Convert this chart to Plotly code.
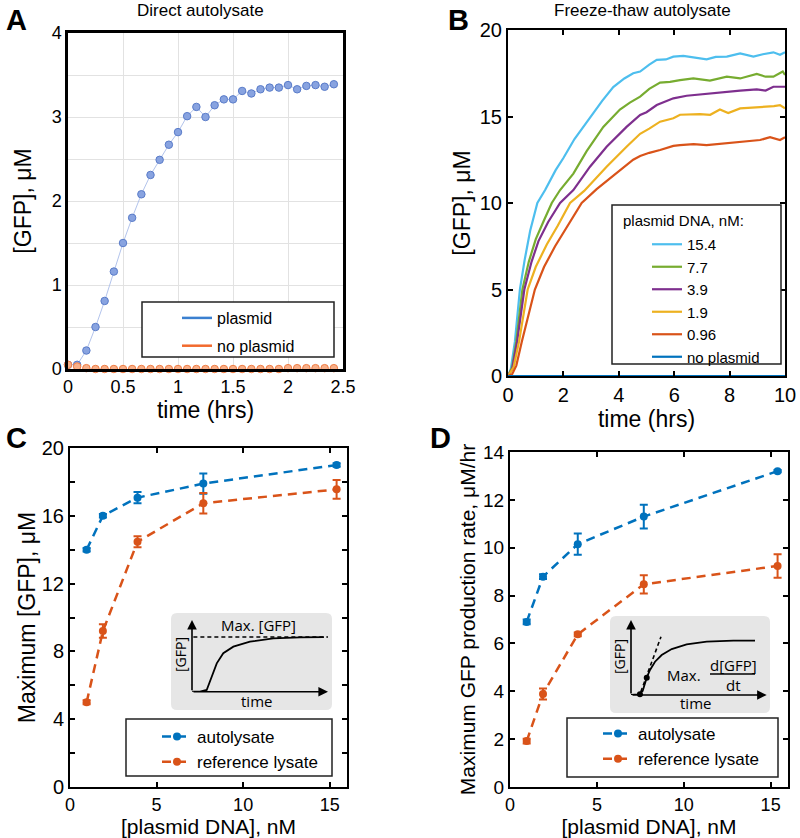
import plotly.graph_objects as go

# ---------------- data ----------------
# Panel A: direct autolysate (time in hours, GFP in uM)
a_time = [0, 0.083, 0.167, 0.25, 0.333, 0.417, 0.5, 0.583, 0.667, 0.75, 0.833, 0.917, 1.0, 1.083, 1.167,
          1.25, 1.333, 1.417, 1.5, 1.583, 1.667, 1.75, 1.833, 1.917, 2.0, 2.083, 2.167, 2.25, 2.333, 2.417]
a_plasmid = [0.05, 0.05, 0.22, 0.50, 0.81, 1.16, 1.50, 1.80, 2.08, 2.31, 2.49, 2.67, 2.82, 3.01, 3.12,
             3.00, 3.14, 3.21, 3.21, 3.31, 3.28, 3.33, 3.35, 3.35, 3.38, 3.33, 3.37, 3.38, 3.36, 3.39]
a_noplasmid = [0.05, 0.03, 0.01, 0.0, 0.0, 0.0, 0.0, 0.0, 0.0, 0.0, 0.0, 0.0, 0.0, 0.0, 0.0,
               0.0, 0.0, 0.0, 0.0, 0.0, 0.0, 0.0, 0.0, 0.0, 0.01, 0.01, 0.01, 0.01, 0.01, 0.01]

# Panel B: freeze-thaw autolysate, one curve per plasmid concentration
b_t_154 = [0, 0.1, 0.25, 0.43, 0.6, 0.8, 1.06, 1.34, 1.72, 2.0, 2.4, 2.98, 3.4, 3.8, 4.2, 4.52, 4.77, 5.1,
           5.37, 5.7, 5.97, 6.33, 6.7, 7.17, 7.5, 7.9, 8.38, 8.86, 9.2, 9.58, 9.82, 10.0]
b_v_154 = [0, 0.4, 2.0, 5.0, 6.7, 8.4, 10.0, 10.75, 11.9, 12.6, 13.7, 15.0, 15.9, 16.7, 17.2, 17.5, 17.6, 18.0,
           18.27, 18.3, 18.46, 18.5, 18.4, 18.3, 18.45, 18.46, 18.65, 18.46, 18.6, 18.71, 18.57, 18.71]
b_t_77 = [0, 0.15, 0.3, 0.52, 0.75, 1.0, 1.3, 1.58, 1.88, 2.36, 2.84, 3.44, 4.04, 4.4, 4.77, 5.1, 5.49, 5.85,
          6.21, 6.69, 7.29, 7.9, 8.38, 8.98, 9.3, 9.58, 9.92, 10.0]
b_v_77 = [0, 0.5, 2.0, 5.0, 6.6, 7.9, 9.0, 10.0, 10.75, 11.7, 13.0, 14.4, 15.4, 15.8, 16.15, 16.6, 16.96, 17.0,
          17.1, 17.2, 17.07, 17.3, 17.2, 17.46, 17.3, 17.3, 17.6, 17.4]
b_t_39 = [0, 0.15, 0.33, 0.59, 0.85, 1.1, 1.45, 1.88, 2.36, 2.96, 3.56, 4.28, 4.77, 5.0, 5.37, 5.97, 6.45,
          6.69, 7.17, 7.65, 8.38, 8.98, 9.3, 9.58, 10.0]
b_v_39 = [0, 0.4, 2.0, 5.0, 6.6, 7.8, 8.9, 10.0, 10.75, 12.1, 13.25, 14.4, 15.09, 15.25, 15.66, 16.05, 16.2,
          16.24, 16.3, 16.42, 16.5, 16.57, 16.5, 16.72, 16.72]
b_t_19 = [0, 0.2, 0.4, 0.71, 1.0, 1.4, 1.8, 2.24, 2.75, 3.56, 4.28, 4.77, 5.1, 5.49, 5.97, 6.21, 6.93, 7.3,
          7.65, 7.95, 8.38, 8.74, 9.1, 9.6, 9.82, 10.0]
b_v_19 = [0, 0.5, 2.0, 5.0, 6.3, 7.6, 8.7, 10.0, 10.7, 12.1, 13.25, 14.0, 14.3, 14.7, 14.9, 15.1, 15.14, 15.1,
          15.4, 15.2, 15.47, 15.5, 15.53, 15.6, 15.66, 15.47]
b_t_096 = [0, 0.15, 0.3, 0.5, 0.97, 1.3, 1.7, 2.2, 2.66, 3.2, 3.92, 4.52, 4.77, 5.1, 5.49, 5.97, 6.21, 6.7,
           7.17, 7.9, 8.62, 9.1, 9.46, 9.82, 10.0]
b_v_096 = [0, 0.1, 0.6, 2.0, 5.0, 6.3, 7.5, 8.8, 10.0, 10.8, 11.7, 12.5, 12.72, 12.9, 13.06, 13.3, 13.35, 13.4,
           13.35, 13.45, 13.55, 13.64, 13.8, 13.64, 13.8]
b_t_none = [0, 10]
b_v_none = [0, 0]
b_labels = ["15.4", "7.7", "3.9", "1.9", "0.96", "no plasmid"]

# Panels C and D: summary vs plasmid DNA (nM)
dna = [0.96, 1.9, 3.9, 7.7, 15.4]
c_auto = [14.0, 16.0, 17.07, 17.9, 19.0]
c_auto_err = [0.1, 0.1, 0.33, 0.6, 0.1]
c_ref = [5.0, 9.2, 14.47, 16.74, 17.56]
c_ref_err = [0.12, 0.4, 0.33, 0.6, 0.55]
d_auto = [6.9, 8.79, 10.15, 11.3, 13.2]
d_auto_err = [0.1, 0.1, 0.44, 0.5, 0.05]
d_ref = [1.92, 3.89, 6.38, 8.47, 9.24]
d_ref_err = [0.1, 0.23, 0.08, 0.38, 0.49]

# Inset schematics (unitless)
inset_c_x = [0, 0.059, 0.108, 0.145, 0.182, 0.23, 0.304, 0.426, 0.598, 0.794, 0.97]
inset_c_y = [0, 0, 0.024, 0.209, 0.396, 0.536, 0.628, 0.697, 0.745, 0.759, 0.762]
inset_d_x = [0, 0.054, 0.086, 0.116, 0.14, 0.177, 0.226, 0.3, 0.41, 0.558, 0.754, 0.914]
inset_d_y = [0, 0.009, 0.053, 0.231, 0.333, 0.444, 0.533, 0.613, 0.676, 0.711, 0.724, 0.724]
inset_d_tan_x = [0.037, 0.221]
inset_d_tan_y = [-0.133, 0.777]
inset_d_dot_x = [0.066, 0.116]
inset_d_dot_y = [0.009, 0.231]

# ---------------- style ----------------
FONT = "Arial, Liberation Sans, sans-serif"
INSET_FONT = "Open Sans, Lato, sans-serif"
M_BLUE = "#0072BD"
M_RED = "#D95319"
b_colors = ["#4DBEEE", "#77AC30", "#7E2F8E", "#EDB120", "#D95319", "#0072BD"]
H = 838.0
W = 800.0

fig = go.Figure()

# Panel A
fig.add_trace(go.Scatter(x=a_time, y=a_plasmid, mode="lines+markers", xaxis="x", yaxis="y",
                         line=dict(color="#b3c4ec", width=1),
                         marker=dict(size=7.5, color="#88a3e0", line=dict(color="#5a7cc9", width=1)),
                         showlegend=False, cliponaxis=False))
fig.add_trace(go.Scatter(x=a_time, y=a_noplasmid, mode="markers", xaxis="x", yaxis="y",
                         marker=dict(size=7.5, color="#f8b08a", line=dict(color="#f07d45", width=1)),
                         showlegend=False, cliponaxis=False))
fig.add_trace(go.Scatter(x=[None], y=[None], mode="lines", name="plasmid", xaxis="x", yaxis="y",
                         line=dict(color="#3b80d0", width=2.5), legend="legend", legendgroup="a1"))
fig.add_trace(go.Scatter(x=[None], y=[None], mode="lines", name="no plasmid", xaxis="x", yaxis="y",
                         line=dict(color="#f26a2e", width=2.5), legend="legend", legendgroup="a2"))

# Panel B
b_series = [(b_t_154, b_v_154), (b_t_77, b_v_77), (b_t_39, b_v_39), (b_t_19, b_v_19),
            (b_t_096, b_v_096), (b_t_none, b_v_none)]
for (tt, vv), lab, col in zip(b_series, b_labels, b_colors):
    fig.add_trace(go.Scatter(x=tt, y=vv, mode="lines", name=lab, xaxis="x2", yaxis="y2",
                             line=dict(color=col, width=2.2), legend="legend2", cliponaxis=False))

# Panel C
for i, (vals, err, col, name) in enumerate([(c_auto, c_auto_err, M_BLUE, "autolysate"),
                                            (c_ref, c_ref_err, M_RED, "reference lysate")]):
    fig.add_trace(go.Scatter(x=dna, y=vals, mode="lines+markers", name=name, xaxis="x3", yaxis="y3",
                             line=dict(color=col, width=2.5, dash="9px,6px"),
                             marker=dict(size=8, color=col),
                             error_y=dict(type="data", array=err, color=col, thickness=2, width=4),
                             legend="legend3", legendgroup=f"c{i}"))
# Panel D
for i, (vals, err, col, name) in enumerate([(d_auto, d_auto_err, M_BLUE, "autolysate"),
                                            (d_ref, d_ref_err, M_RED, "reference lysate")]):
    fig.add_trace(go.Scatter(x=dna, y=vals, mode="lines+markers", name=name, xaxis="x4", yaxis="y4",
                             line=dict(color=col, width=2.5, dash="9px,6px"),
                             marker=dict(size=8, color=col),
                             error_y=dict(type="data", array=err, color=col, thickness=2, width=4),
                             legend="legend4", legendgroup=f"d{i}"))

# Inset C
fig.add_trace(go.Scatter(x=inset_c_x, y=inset_c_y, mode="lines", xaxis="x5", yaxis="y5",
                         line=dict(color="black", width=1.8), showlegend=False, cliponaxis=False))
fig.add_trace(go.Scatter(x=[0.01, 1.03], y=[0.763, 0.763], mode="lines", xaxis="x5", yaxis="y5",
                         line=dict(color="black", width=1.6, dash="4px,3px"), showlegend=False, cliponaxis=False))
# Inset D
fig.add_trace(go.Scatter(x=inset_d_x, y=inset_d_y, mode="lines", xaxis="x6", yaxis="y6",
                         line=dict(color="black", width=1.8), showlegend=False, cliponaxis=False))
fig.add_trace(go.Scatter(x=inset_d_tan_x, y=inset_d_tan_y, mode="lines", xaxis="x6", yaxis="y6",
                         line=dict(color="black", width=1.6, dash="4px,3px"), showlegend=False, cliponaxis=False))
fig.add_trace(go.Scatter(x=inset_d_dot_x, y=inset_d_dot_y, mode="markers", xaxis="x6", yaxis="y6",
                         marker=dict(size=6, color="black"), showlegend=False, cliponaxis=False))
fig.add_trace(go.Scatter(x=[0.582, 0.914], y=[0.28, 0.28], mode="lines", xaxis="x6", yaxis="y6",
                         line=dict(color="black", width=1.3), showlegend=False, cliponaxis=False))


def ax(domain, rng, dtick, anchor, title=None, standoff=None, tsize=23, fsize=18, **kw):
    d = dict(domain=domain, range=rng, dtick=dtick, anchor=anchor, automargin=False,
             showline=True, linecolor="black", linewidth=2, mirror="allticks",
             ticks="inside", ticklen=5, tickwidth=1.5, tickcolor="black",
             tickfont=dict(family=FONT, size=fsize, color="black"),
             zeroline=False, showgrid=False, fixedrange=True)
    if title:
        d["title"] = dict(text=title, font=dict(family=FONT, size=tsize, color="black"))
        if standoff is not None:
            d["title"]["standoff"] = standoff
    d.update(kw)
    return d


def hidden(domain, anchor):
    return dict(domain=domain, range=[0, 1], anchor=anchor, visible=False, fixedrange=True, automargin=False)


yd = lambda top, bot: [1 - bot / H, 1 - top / H]
xd = lambda l, r: [l / W, r / W]


def leg(x, y, size=16, gap=0):
    return dict(x=x / W, y=1 - y / H, xanchor="left", yanchor="top", bgcolor="rgba(0,0,0,0)",
                borderwidth=0, font=dict(family=FONT, size=size, color="black"),
                tracegroupgap=gap, itemclick=False, itemdoubleclick=False)


layout = dict(
    width=800, height=838, margin=dict(l=0, r=0, t=0, b=0, autoexpand=False),
    paper_bgcolor="white", plot_bgcolor="rgba(0,0,0,0)",
    font=dict(family=FONT, color="black"),
    xaxis=ax(xd(68, 343), [0, 2.5], 0.5, "y", "time (hrs)", 0, fsize=18, ticks="", showgrid=True,
             gridcolor="#e2e2e2", gridwidth=1, mirror=True, linewidth=2.5),
    yaxis=ax(yd(33, 369), [0, 4], 1, "x", "[GFP], μM", 14, fsize=18, ticks="", showgrid=True,
             gridcolor="#e2e2e2", gridwidth=1, mirror=True, linewidth=2.5,
             minor=dict(dtick=0.5, showgrid=True, gridcolor="#e2e2e2", gridwidth=1)),
    xaxis2=ax(xd(508, 785), [0, 10], 2, "y2", "time (hrs)", 0, fsize=20),
    yaxis2=ax(yd(30, 376), [0, 20], 5, "x2", "[GFP], μM", 3, fsize=20),
    xaxis3=ax(xd(70, 347), [0, 16], 5, "y3", "[plasmid DNA], nM", 2, tsize=21, fsize=18),
    yaxis3=ax(yd(448, 787), [0, 20], 4, "x3", "Maximum [GFP], μM", 0, fsize=20,
              minor=dict(dtick=2, ticks="inside", ticklen=5, tickwidth=1.5, tickcolor="black")),
    xaxis4=ax(xd(510, 788), [0, 16], 5, "y4", "[plasmid DNA], nM", 2, tsize=21, fsize=18),
    yaxis4=ax(yd(452, 787), [0, 14], 2, "x4", "Maximum GFP production rate, μM/hr", 2, tsize=21, fsize=19),
    xaxis5=hidden(xd(192, 328), "y5"),
    yaxis5=hidden(yd(620, 691.7), "x5"),
    xaxis6=hidden(xd(631, 766.7), "y6"),
    yaxis6=hidden(yd(620, 695), "x6"),
    legend=leg(177, 301, gap=4),
    legend2=leg(647, 228, size=15),
    legend3=leg(157, 719, size=17, gap=0),
    legend4=leg(598, 716, size=17, gap=0),
)


def rounded_rect(x0, y0, x1, y1, r=6):
    X0, X1 = x0 / W, x1 / W
    Y0, Y1 = 1 - y1 / H, 1 - y0 / H
    rx, ry = r / W, r / H
    return (f"M {X0+rx},{Y0} L {X1-rx},{Y0} Q {X1},{Y0} {X1},{Y0+ry} L {X1},{Y1-ry} Q {X1},{Y1} {X1-rx},{Y1} "
            f"L {X0+rx},{Y1} Q {X0},{Y1} {X0},{Y1-ry} L {X0},{Y0+ry} Q {X0},{Y0} {X0+rx},{Y0} Z")


def box(x0, y0, x1, y1):
    return dict(type="rect", xref="paper", yref="paper", x0=x0 / W, x1=x1 / W, y0=1 - y1 / H, y1=1 - y0 / H,
                fillcolor="white", line=dict(color="#222", width=1.5), layer="above")


layout["shapes"] = [
    dict(type="path", xref="paper", yref="paper", path=rounded_rect(171, 613, 332, 710),
         fillcolor="#e6e6e6", line=dict(width=0), layer="below"),
    dict(type="path", xref="paper", yref="paper", path=rounded_rect(610, 616, 770, 713),
         fillcolor="#e6e6e6", line=dict(width=0), layer="below"),
    box(142, 302, 334, 357),
    box(612, 205, 781, 364),
    box(126, 719, 332, 776),
    box(567, 718, 778, 777),
]


def ptxt(text, x, y, size, family=FONT, angle=0):
    return dict(text=text, x=x / W, y=1 - y / H, xref="paper", yref="paper", xanchor="center",
                yanchor="middle", showarrow=False, textangle=angle,
                font=dict(family=family, size=size, color="black"))


ann = []
ann.append(ptxt("Direct autolysate", 200, 11, 17))
ann.append(ptxt("Freeze-thaw autolysate", 642, 11, 17))
ann.append(ptxt("plasmid DNA, nM:", 683, 220, 15))
for letter, px, py in [("A", 16, 20), ("B", 458, 20), ("C", 16, 438), ("D", 440, 438)]:
    ann.append(ptxt(f"<b>{letter}</b>", px, py, 29))

# inset arrows
for xr, yr in [("x5", "y5"), ("x6", "y6")]:
    ann.append(dict(x=0, y=1.0, ax=0, ay=0, xref=xr, yref=yr, axref=xr, ayref=yr, text="",
                    showarrow=True, arrowhead=2, arrowsize=1.2, arrowwidth=1.6, arrowcolor="black"))
    ann.append(dict(x=1.0, y=0, ax=0, ay=0, xref=xr, yref=yr, axref=xr, ayref=yr, text="",
                    showarrow=True, arrowhead=2, arrowsize=1.2, arrowwidth=1.6, arrowcolor="black"))
# inset C texts
ann.append(ptxt("Max. [GFP]", 258, 625, 15, INSET_FONT))
ann.append(ptxt("[GFP]", 180, 655, 14, INSET_FONT, -90))
ann.append(ptxt("time", 256, 701, 15, INSET_FONT))
# inset D texts
ann.append(ptxt("Max.", 684, 675, 15, INSET_FONT))
ann.append(ptxt("d[GFP]", 733, 665, 15, INSET_FONT))
ann.append(ptxt("dt", 733, 685, 15, INSET_FONT))
ann.append(ptxt("[GFP]", 619, 657, 14, INSET_FONT, -90))
ann.append(ptxt("time", 695, 703, 15, INSET_FONT))
layout["annotations"] = ann

fig.update_layout(**layout)
fig.write_html("out.html", config={"displayModeBar": False},
               post_script="document.body.style.margin='0';document.body.style.overflow='hidden';")
